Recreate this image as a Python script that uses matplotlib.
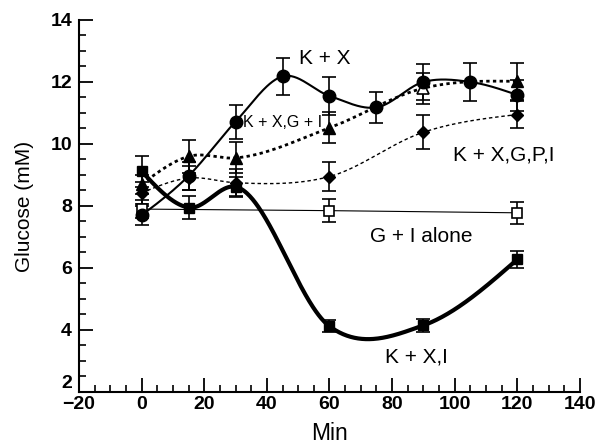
#!/usr/bin/env python3
"""Glucose time course after K + X with and without G, P, I infusion."""
import numpy as np

import matplotlib

matplotlib.use("Agg")
import matplotlib.pyplot as plt
from matplotlib.ticker import MultipleLocator

plt.rcParams["font.family"] = ["Liberation Sans", "DejaVu Sans"]

# K + X (filled circles)
kx_t = [0, 15, 30, 45, 60, 75, 90, 105, 120]
kx_y = [7.7, 8.97, 10.72, 12.18, 11.55, 11.18, 12.0, 12.0, 11.58]
kx_err = [0.3, 0.45, 0.55, 0.6, 0.62, 0.5, 0.58, 0.6, 0.5]

# K + X,G + I (filled triangles)
kxgi_t = [0, 15, 30, 60, 90, 120]
kxgi_y = [8.7, 9.6, 9.55, 10.52, 11.8, 12.02]
kxgi_err = [0.3, 0.52, 0.5, 0.5, 0.5, 0.6]

# K + X,G,P,I (filled diamonds)
kxgpi_t = [0, 15, 30, 60, 90, 120]
kxgpi_y = [8.42, 8.9, 8.75, 8.95, 10.38, 10.95]
kxgpi_err = [0.35, 0.4, 0.45, 0.48, 0.55, 0.45]

# G + I alone (open squares)
gi_t = [0, 60, 120]
gi_y = [7.9, 7.85, 7.78]
gi_err = [0.3, 0.38, 0.36]

# K + X,I (filled squares)
kxi_t = [0, 15, 30, 60, 90, 120]
kxi_y = [9.12, 7.95, 8.62, 4.12, 4.15, 6.28]
kxi_err = [0.5, 0.38, 0.3, 0.2, 0.2, 0.28]


def smooth_curve(x, y, n=400):
    """Cubic Hermite curve through the points, three-point tangents."""
    x = np.asarray(x, dtype=float)
    y = np.asarray(y, dtype=float)
    h = np.diff(x)
    d = np.diff(y) / h
    m = np.zeros_like(y)
    for i in range(1, len(x) - 1):
        m[i] = (h[i - 1] * d[i] + h[i] * d[i - 1]) / (h[i - 1] + h[i])
    m[0] = (3 * d[0] - m[1]) / 2
    m[-1] = (3 * d[-1] - m[-2]) / 2
    xs = np.linspace(x[0], x[-1], n)
    idx = np.clip(np.searchsorted(x, xs) - 1, 0, len(x) - 2)
    hh = h[idx]
    s = (xs - x[idx]) / hh
    h00 = 2 * s ** 3 - 3 * s ** 2 + 1
    h10 = s ** 3 - 2 * s ** 2 + s
    h01 = -2 * s ** 3 + 3 * s ** 2
    h11 = s ** 3 - s ** 2
    ys = h00 * y[idx] + h10 * hh * m[idx] + h01 * y[idx + 1] + h11 * hh * m[idx + 1]
    return xs, ys


fig = plt.figure(figsize=(5.97, 4.48), dpi=100)
ax = fig.add_axes([0.1323, 0.125, 0.8392, 0.8304])

err_kw = dict(fmt="none", ecolor="black", elinewidth=1.2, capsize=5, capthick=1.2, zorder=2)

# curves
ax.plot(gi_t, gi_y, color="black", linewidth=0.8, zorder=1)
xs, ys = smooth_curve(kxgpi_t, kxgpi_y)
ax.plot(xs, ys, color="black", linewidth=1.0, linestyle=(0, (2.5, 2)), zorder=1)
xs, ys = smooth_curve(kxgi_t, kxgi_y)
ax.plot(xs, ys, color="black", linewidth=2.0, linestyle=(0, (1.2, 1.2)), zorder=1)
xs, ys = smooth_curve(kx_t, kx_y)
ax.plot(xs, ys, color="black", linewidth=1.5, zorder=1)
xs, ys = smooth_curve(kxi_t, kxi_y)
ax.plot(xs, ys, color="black", linewidth=3.0, zorder=1)

# error bars
for t, y, e in [
    (gi_t, gi_y, gi_err),
    (kxgpi_t, kxgpi_y, kxgpi_err),
    (kxgi_t, kxgi_y, kxgi_err),
    (kx_t, kx_y, kx_err),
    (kxi_t, kxi_y, kxi_err),
]:
    ax.errorbar(t, y, yerr=e, **err_kw)

# markers
ax.plot(gi_t, gi_y, "s", ms=6.5, mfc="white", mec="black", mew=1.2, zorder=3)
ax.plot(kxgpi_t, kxgpi_y, "D", ms=6.5, color="black", zorder=3)
open_tri = [i for i, t in enumerate(kxgi_t) if t == 90]
filled_tri = [i for i in range(len(kxgi_t)) if i not in open_tri]
ax.plot(np.array(kxgi_t)[filled_tri], np.array(kxgi_y)[filled_tri], "^", ms=8, color="black", zorder=3)
ax.plot(np.array(kxgi_t)[open_tri], np.array(kxgi_y)[open_tri], "^", ms=8, mfc="white", mec="black", mew=1.2, zorder=3)
ax.plot(kx_t, kx_y, "o", ms=9, color="black", zorder=4)
ax.plot(kxi_t, kxi_y, "s", ms=7.5, color="black", zorder=4)

# labels on curves
ax.text(58.5, 12.77, "K + X", fontsize=15, ha="center", va="center")
ax.text(32.3, 10.68, "K + X,G + I", fontsize=11.5, ha="left", va="center")
ax.text(115.5, 9.65, "K + X,G,P,I", fontsize=15, ha="center", va="center")
ax.text(89.3, 7.03, "G + I alone", fontsize=15, ha="center", va="center")
ax.text(87.7, 3.13, "K + X,I", fontsize=15, ha="center", va="center")

ax.set_xlim(-20, 140)
ax.set_ylim(2, 14)
ax.xaxis.set_major_locator(MultipleLocator(20))
ax.xaxis.set_minor_locator(MultipleLocator(5))
ax.yaxis.set_major_locator(MultipleLocator(2))
ax.yaxis.set_minor_locator(MultipleLocator(0.5))
ax.tick_params(which="major", direction="in", length=10, width=1.3, labelsize=14, pad=5)
ax.tick_params(which="minor", direction="in", length=5, width=1.2)
ax.tick_params(axis="x", which="major", pad=3)
for side in ["top", "right"]:
    ax.spines[side].set_visible(False)
for side in ["left", "bottom"]:
    ax.spines[side].set_linewidth(1.5)

ax.set_xlabel("Min", fontsize=16.5, labelpad=6)
ax.set_ylabel("Glucose (mM)", fontsize=15, labelpad=12)

fig.canvas.draw()
for lab in ax.get_xticklabels() + ax.get_yticklabels():
    lab.set_fontweight("bold")
# the corner "2" sits just above the x axis, as in the print
for tick in ax.yaxis.get_major_ticks():
    if np.isclose(tick.get_loc(), 2.0):
        tick.label1.set_va("bottom")

fig.savefig("out.png", dpi=100)
